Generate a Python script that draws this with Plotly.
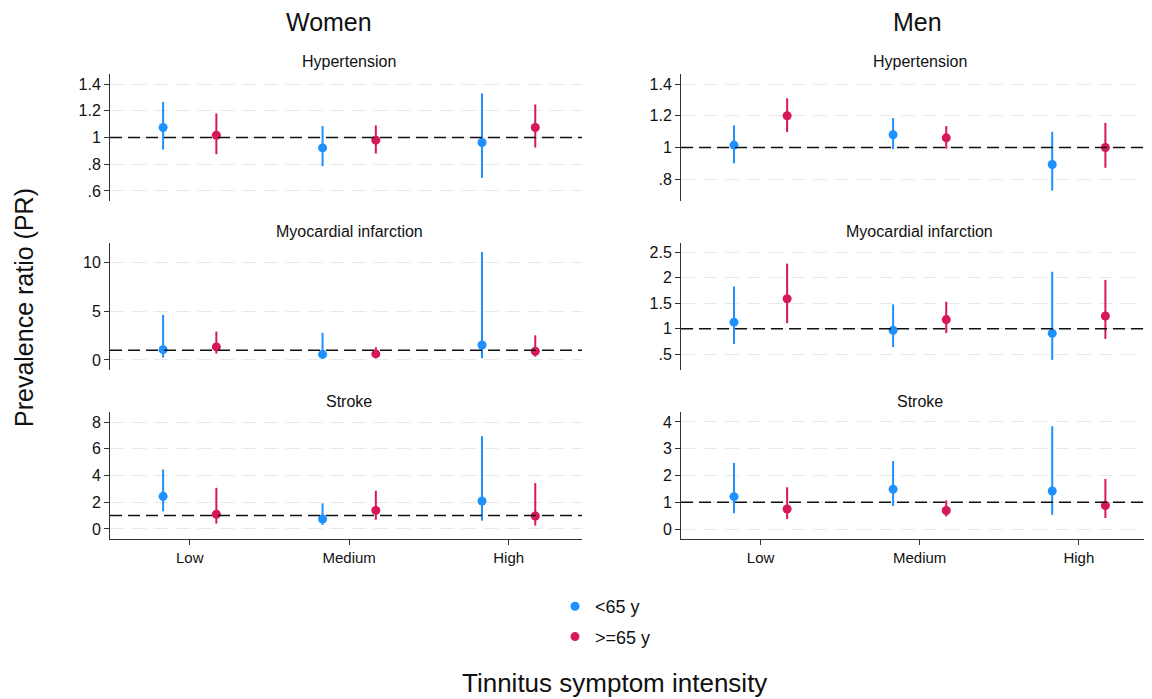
import plotly.graph_objects as go

categories = ["Low", "Medium", "High"]
groups = ["<65 y", ">=65 y"]
outcomes = ["Hypertension", "Myocardial infarction", "Stroke"]
sexes = ["Women", "Men"]

# Women: point estimate, lower CI, upper CI per category
w_hyp_young = [1.075, 0.922, 0.963]
w_hyp_young_lo = [0.91, 0.785, 0.698]
w_hyp_young_hi = [1.267, 1.085, 1.33]
w_hyp_old = [1.017, 0.98, 1.075]
w_hyp_old_lo = [0.875, 0.88, 0.925]
w_hyp_old_hi = [1.18, 1.09, 1.247]

w_mi_young = [1.06, 0.58, 1.54]
w_mi_young_lo = [0.24, 0.10, 0.17]
w_mi_young_hi = [4.62, 2.78, 11.07]
w_mi_old = [1.34, 0.62, 0.89]
w_mi_old_lo = [0.65, 0.34, 0.34]
w_mi_old_hi = [2.91, 1.30, 2.53]

w_st_young = [2.44, 0.75, 2.09]
w_st_young_lo = [1.32, 0.30, 0.62]
w_st_young_hi = [4.45, 1.92, 6.94]
w_st_old = [1.10, 1.39, 0.97]
w_st_old_lo = [0.40, 0.69, 0.25]
w_st_old_hi = [3.08, 2.86, 3.43]

# Men
m_hyp_young = [1.015, 1.08, 0.893]
m_hyp_young_lo = [0.90, 0.99, 0.728]
m_hyp_young_hi = [1.14, 1.185, 1.099]
m_hyp_old = [1.20, 1.061, 1.0]
m_hyp_old_lo = [1.097, 0.992, 0.872]
m_hyp_old_hi = [1.31, 1.135, 1.155]

m_mi_young = [1.13, 0.97, 0.91]
m_mi_young_lo = [0.70, 0.64, 0.39]
m_mi_young_hi = [1.83, 1.48, 2.12]
m_mi_old = [1.59, 1.18, 1.25]
m_mi_old_lo = [1.11, 0.915, 0.80]
m_mi_old_hi = [2.28, 1.53, 1.96]

m_st_young = [1.21, 1.49, 1.42]
m_st_young_lo = [0.59, 0.86, 0.53]
m_st_young_hi = [2.47, 2.54, 3.84]
m_st_old = [0.75, 0.69, 0.88]
m_st_old_lo = [0.37, 0.47, 0.41]
m_st_old_hi = [1.56, 1.07, 1.87]

# axis ticks per panel
w_hyp_ticks = [0.6, 0.8, 1, 1.2, 1.4]
w_hyp_labels = [".6", ".8", "1", "1.2", "1.4"]
m_hyp_ticks = [0.8, 1, 1.2, 1.4]
m_hyp_labels = [".8", "1", "1.2", "1.4"]
w_mi_ticks = [0, 5, 10]
w_mi_labels = ["0", "5", "10"]
m_mi_ticks = [0.5, 1, 1.5, 2, 2.5]
m_mi_labels = [".5", "1", "1.5", "2", "2.5"]
w_st_ticks = [0, 2, 4, 6, 8]
w_st_labels = ["0", "2", "4", "6", "8"]
m_st_ticks = [0, 1, 2, 3, 4]
m_st_labels = ["0", "1", "2", "3", "4"]

panels = [
    (0, 0, w_hyp_young, w_hyp_young_lo, w_hyp_young_hi, w_hyp_old, w_hyp_old_lo, w_hyp_old_hi, w_hyp_ticks, w_hyp_labels, [0.525, 1.475]),
    (0, 1, m_hyp_young, m_hyp_young_lo, m_hyp_young_hi, m_hyp_old, m_hyp_old_lo, m_hyp_old_hi, m_hyp_ticks, m_hyp_labels, [0.663, 1.463]),
    (1, 0, w_mi_young, w_mi_young_lo, w_mi_young_hi, w_mi_old, w_mi_old_lo, w_mi_old_hi, w_mi_ticks, w_mi_labels, [-1.03, 12.0]),
    (1, 1, m_mi_young, m_mi_young_lo, m_mi_young_hi, m_mi_old, m_mi_old_lo, m_mi_old_hi, m_mi_ticks, m_mi_labels, [0.19, 2.685]),
    (2, 0, w_st_young, w_st_young_lo, w_st_young_hi, w_st_old, w_st_old_lo, w_st_old_hi, w_st_ticks, w_st_labels, [-0.75, 8.75]),
    (2, 1, m_st_young, m_st_young_lo, m_st_young_hi, m_st_old, m_st_old_lo, m_st_old_hi, m_st_ticks, m_st_labels, [-0.373, 4.373]),
]

BLUE = "#1E90FF"
RED = "#D6175A"
# page body margin offset (8px) compensation
OFF = 8
W, H = 1152 - OFF, 699 - OFF
FONT = "Liberation Sans, Arial, sans-serif"


def px(xp):
    return (xp - OFF) / W


def py(yp):
    return 1 - (yp - OFF) / H


col_px = [(110, 582), (681, 1152)]
row_px = [(74, 201), (243, 370), (412, 539)]
title_y_px = [62, 231, 401]

fig = go.Figure()
layout = dict(
    width=W, height=H, margin=dict(l=0, r=0, t=0, b=0),
    paper_bgcolor="white", plot_bgcolor="white",
    font=dict(family=FONT, color="#111"),
    showlegend=True,
)
shapes = []
annotations = []
base_x = [i + 1 for i in range(len(categories))]
offset = 0.167

for k, (r, c, yv, ylo, yhi, ov, olo, ohi, ticks, labels, yr) in enumerate(panels):
    idx = k + 1
    xa = "x" if idx == 1 else f"x{idx}"
    ya = "y" if idx == 1 else f"y{idx}"
    xkey = "xaxis" if idx == 1 else f"xaxis{idx}"
    ykey = "yaxis" if idx == 1 else f"yaxis{idx}"
    x0, x1 = col_px[c]
    t0, t1 = row_px[r]
    bottom = (r == 2)
    layout[xkey] = dict(
        domain=[px(x0), min(px(x1), 1.0)], anchor=ya, range=[0.5, 3.46],
        tickvals=base_x, ticktext=categories if bottom else None,
        showticklabels=bottom, showline=bottom, linecolor="#333", linewidth=1,
        ticks="outside" if bottom else "", ticklen=5, tickcolor="#333",
        showgrid=False, zeroline=False, tickfont=dict(size=15, color="#111"),
    )
    layout[ykey] = dict(
        domain=[py(t1), py(t0)], anchor=xa, range=yr,
        tickvals=ticks, ticktext=labels, showline=True, linecolor="#333", linewidth=1,
        ticks="outside", ticklen=5, tickcolor="#333",
        showgrid=True, gridcolor="#E8E8E8", gridwidth=1, griddash="14px,8px",
        zeroline=False, tickfont=dict(size=16, color="#111"),
    )
    for g, (vals, lo, hi, color, off) in enumerate([
        (yv, ylo, yhi, BLUE, -offset), (ov, olo, ohi, RED, offset)
    ]):
        xs = [b + off for b in base_x]
        fig.add_trace(go.Scatter(
            x=xs, y=vals, mode="markers", xaxis=xa, yaxis=ya,
            name=groups[g], legendgroup=groups[g], showlegend=(k == 0),
            marker=dict(color=color, size=9),
            error_y=dict(type="data", symmetric=False,
                         array=[h - v for h, v in zip(hi, vals)],
                         arrayminus=[v - l for v, l in zip(vals, lo)],
                         color=color, thickness=2, width=0),
        ))
    shapes.append(dict(type="line", xref=f"{xa} domain", yref=ya, x0=0, x1=1, y0=1, y1=1,
                       line=dict(color="#111", width=1.5, dash="12px,6px"), layer="above"))
    annotations.append(dict(text=outcomes[r], xref="paper", yref="paper",
                            x=px((x0 + x1) / 2 + 3), y=py(title_y_px[r]),
                            showarrow=False, font=dict(size=16, color="#111"),
                            xanchor="center", yanchor="middle"))

annotations.append(dict(text=sexes[0], xref="paper", yref="paper", x=px(329), y=py(22),
                        showarrow=False, font=dict(size=25, color="#111"), xanchor="center", yanchor="middle"))
annotations.append(dict(text=sexes[1], xref="paper", yref="paper", x=px(917), y=py(22),
                        showarrow=False, font=dict(size=25, color="#111"), xanchor="center", yanchor="middle"))
annotations.append(dict(text="Prevalence ratio (PR)", xref="paper", yref="paper", x=px(24), y=py(308),
                        showarrow=False, textangle=-90, font=dict(size=25, color="#111"),
                        xanchor="center", yanchor="middle"))
annotations.append(dict(text="Tinnitus symptom intensity", xref="paper", yref="paper", x=px(614), y=py(683),
                        showarrow=False, font=dict(size=26, color="#111"), xanchor="center", yanchor="middle"))

layout["shapes"] = shapes
layout["annotations"] = annotations
layout["legend"] = dict(x=px(555), y=py(588), xanchor="left", yanchor="top",
                        font=dict(size=18, color="#111"), bgcolor="rgba(0,0,0,0)",
                        tracegroupgap=4, itemwidth=30)
fig.update_layout(**layout)
fig.write_html("out.html")
